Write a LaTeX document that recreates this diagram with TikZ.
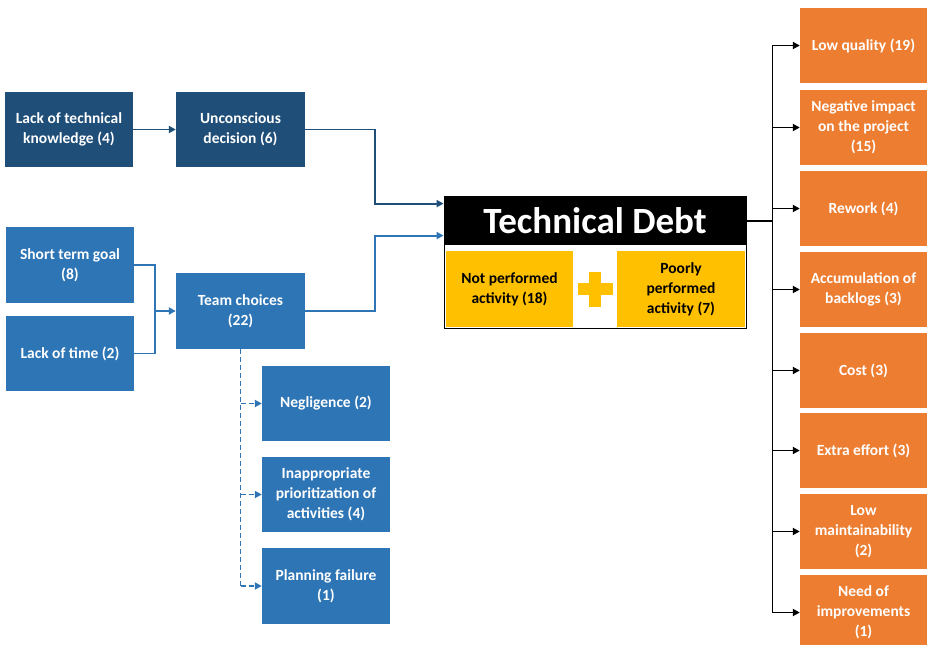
\documentclass[tikz,border=0pt]{standalone}
\usepackage{fontspec}
\setmainfont{Carlito}
\usetikzlibrary{arrows.meta,calc}
\definecolor{dblue}{HTML}{1F4E79}
\definecolor{mblue}{HTML}{2E75B6}
\definecolor{orng}{HTML}{ED7D31}
\definecolor{yell}{HTML}{FFC000}
\tikzset{
  box/.style={minimum width=128pt,minimum height=75pt,inner sep=0pt,align=center,
    font=\fontsize{15.5}{20}\selectfont\bfseries,text=white,draw=none},
  dbox/.style={box,fill=dblue},
  mbox/.style={box,fill=mblue},
  obox/.style={box,fill=orng,minimum width=127pt},
  ybox/.style={box,fill=yell,text=black,minimum height=76pt},
  conn/.style={line width=1.8pt,-{Triangle[length=7pt,width=7pt]}},
  plainconn/.style={line width=1.8pt},
  dash7/.style={dash pattern=on 5pt off 3pt}
}
\begin{document}
\begin{tikzpicture}[x=1pt,y=-1pt]
\clip (0,0) rectangle (927,645);
\fill[white] (0,0) rectangle (927,645);
% left nodes
\node[dbox] (ltk) at (69,129.5) {Lack of technical\\knowledge (4)};
\node[dbox,minimum width=129pt] (unc) at (240.5,129.5) {Unconscious\\decision (6)};
\node[mbox,minimum height=76pt] (stg) at (70,265) {Short term goal\\(8)};
\node[mbox] (lot) at (70,353.5) {Lack of time (2)};
\node[mbox,minimum width=129pt,minimum height=76pt] (tc) at (240.5,311) {Team choices\\(22)};
\node[mbox] (neg) at (326,403.5) {Negligence (2)};
\node[mbox] (inap) at (326,494.5) {Inappropriate\\prioritization of\\activities (4)};
\node[mbox,minimum height=76pt] (plan) at (326,586) {Planning failure\\(1)};
% technical debt
\node[draw=black,line width=0.8pt,fill=white,minimum width=302pt,minimum height=132pt,inner sep=0pt] (td) at (595,262) {};
\fill[black] (td.north west) rectangle ($(td.north east)+(0,49)$);
\node[font=\fontsize{37}{40}\selectfont\bfseries,text=white,inner sep=0pt] (tdt) at ($(td.north)+(0,25)$) {Technical Debt};
\node[ybox,minimum width=127pt] (npa) at (509.5,289) {Not performed\\activity (18)};
\node[ybox,minimum width=128pt] (ppa) at (681,289) {Poorly\\performed\\activity (7)};
\fill[yell] (577.5,283) rectangle (612.5,295);
\fill[yell] (589,271.5) rectangle (601,306.5);
% right nodes
\node[obox] (o1) at (863.5,45.5) {Low quality (19)};
\node[obox] (o2) at (863.5,127.5) {Negative impact\\on the project\\(15)};
\node[obox] (o3) at (863.5,208.5) {Rework (4)};
\node[obox] (o4) at (863.5,289.5) {Accumulation of\\backlogs (3)};
\node[obox] (o5) at (863.5,370.5) {Cost (3)};
\node[obox] (o6) at (863.5,450.5) {Extra effort (3)};
\node[obox] (o7) at (863.5,531.5) {Low\\maintainability\\(2)};
\node[obox] (o8) at (863.5,612.5) {Need of\\improvements\\(1)};
% left connectors
\draw[conn,dblue] (ltk.east) -- (unc.west);
\draw[conn,dblue] (unc.east) -- ++(70,0) |- ($(td.north west)+(0,8)$);
\draw[conn,mblue] (tc.east) -- ++(70,0) |- ($(td.north west)+(0,40)$);
\coordinate (sj) at ($(stg.east)+(21,0)$);
\draw[plainconn,mblue] (stg.east) -- (sj) |- (lot.east);
\draw[conn,mblue] (sj |- tc.west) -- (tc.west);
\draw[plainconn,mblue,dash7] (tc.south) -- (tc.south |- plan.west);
\draw[conn,mblue,dash7] (tc.south |- neg.west) -- (neg.west);
\draw[conn,mblue,dash7] (tc.south |- inap.west) -- (inap.west);
\draw[conn,mblue,dash7] (tc.south |- plan.west) -- (plan.west);
% right connectors
\coordinate (re) at ($(td.north east)+(0,25)$);
\coordinate (rb) at ($(re)+(26,0)$);
\draw[plainconn,black] (re) -- (rb);
\draw[plainconn,black] (rb |- o1.west) -- (rb |- o8.west);
\foreach \o in {o1,o2,o3,o4,o5,o6,o7,o8}
  \draw[conn,black] (rb |- \o.west) -- (\o.west);
\end{tikzpicture}
\end{document}
